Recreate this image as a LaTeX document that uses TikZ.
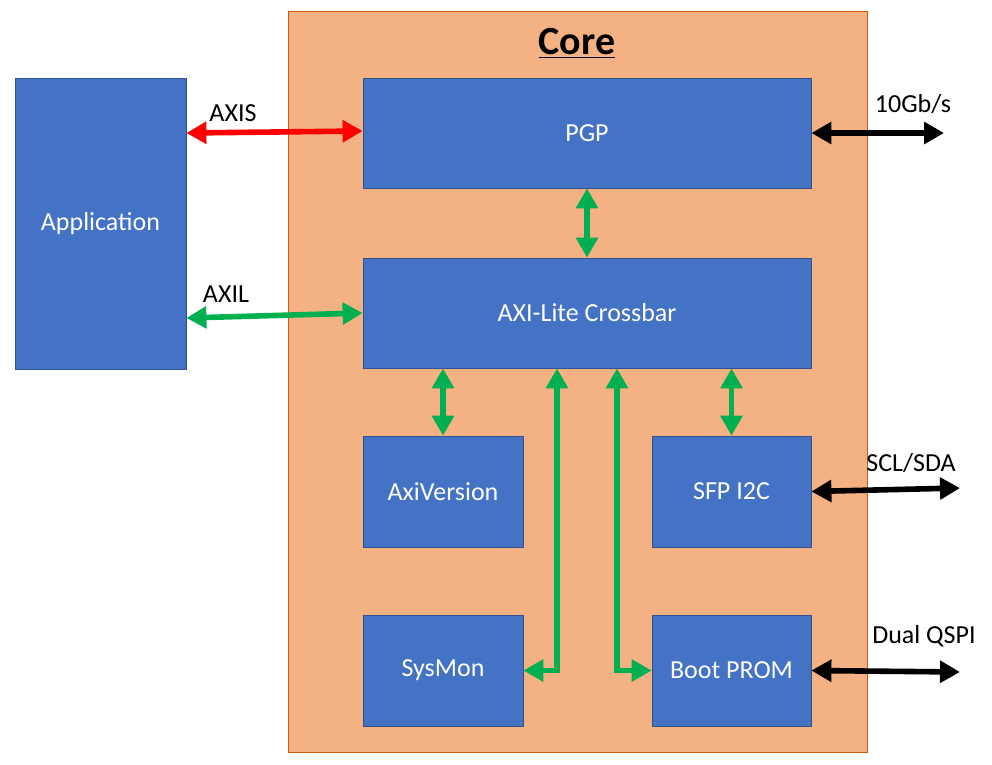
\documentclass[tikz,border=0pt]{standalone}
\usepackage{fontspec}
\setmainfont{Carlito}
\usetikzlibrary{arrows.meta}
\definecolor{blkfill}{RGB}{68,114,196}
\definecolor{blkdraw}{RGB}{47,82,143}
\definecolor{corefill}{RGB}{244,177,131}
\definecolor{coredraw}{RGB}{197,90,17}
\definecolor{busgreen}{RGB}{0,176,80}
\definecolor{busred}{RGB}{255,0,0}
\tikzset{
  blk/.style={draw=blkdraw, line width=0.6pt, fill=blkfill, text=white, inner sep=0pt, font=\fontsize{19.5}{22}\selectfont},
  lbl/.style={inner sep=0.75pt, font=\fontsize{19.5}{22}\selectfont},
  bus/.style={line width=4.2pt, {Triangle[length=15pt,width=16pt]}-{Triangle[length=15pt,width=16pt]}},
}

\begin{document}
\begin{tikzpicture}[x=0.75pt,y=0.75pt,yscale=-1,xscale=1]
\useasboundingbox (0,0) rectangle (992,764);
% core frame
\draw [draw=coredraw, fill=corefill, line width=0.6pt] (288,11) rectangle (867,752);
\node (coreTitle) at (577,43) [inner sep=0pt, font=\fontsize{30}{33}\selectfont\bfseries] {\underline{Core}};
% blocks
\node (app) [blk, minimum width=171*0.75pt, minimum height=291*0.75pt] at (100.5,223.5) {Application};
\node (pgp) [blk, minimum width=448*0.75pt, minimum height=110*0.75pt] at (587,133) {PGP};
\node (xbar) [blk, minimum width=448*0.75pt, minimum height=110*0.75pt] at (587,313) {AXI-Lite Crossbar};
\node (axiver) [blk, minimum width=160*0.75pt, minimum height=111*0.75pt] at (443,491.5) {AxiVersion};
\node (sfp) [blk, minimum width=159*0.75pt, minimum height=111*0.75pt] at (731.5,491.5) {SFP I2C};
\node (sysmon) [blk, minimum width=160*0.75pt, minimum height=111*0.75pt] at (443,670.5) {SysMon};
\node (boot) [blk, minimum width=159*0.75pt, minimum height=111*0.75pt] at (731.5,670.5) {Boot PROM};
% labels
\node (axisLbl) [lbl] at (233,113) {AXIS};
\node (axilLbl) [lbl] at (226,294) {AXIL};
\node (gbLbl) [lbl] at (913,104) {10Gb/s};
\node (sclLbl) [lbl] at (911,463) {SCL/SDA};
\node (qspiLbl) [lbl] at (924,636) {Dual QSPI};
% free ends
\coordinate (gbEnd) at (944,133);
\coordinate (sclEnd) at (960,488);
\coordinate (qspiEnd) at (960,672);
% buses
\draw [bus, busred] (app.east |- 0,133) -- (pgp.west |- 0,131);
\draw [bus, busgreen] (app.east |- 0,318) -- (xbar.west |- 0,313);
\draw [bus, busgreen] (pgp.south) -- (xbar.north);
\draw [bus, busgreen] (xbar.south -| axiver.north) -- (axiver.north);
\draw [bus, busgreen] (xbar.south -| sfp.north) -- (sfp.north);
\draw [bus, busgreen, line join=miter] (xbar.south -| 557,0) |- (sysmon.east);
\draw [bus, busgreen, line join=miter] (xbar.south -| 617,0) |- (boot.west);
\draw [bus, black] (pgp.east) -- (gbEnd);
\draw [bus, black] (sfp.east) -- (sclEnd);
\draw [bus, black] (boot.east) -- (qspiEnd);
\end{tikzpicture}
\end{document}
